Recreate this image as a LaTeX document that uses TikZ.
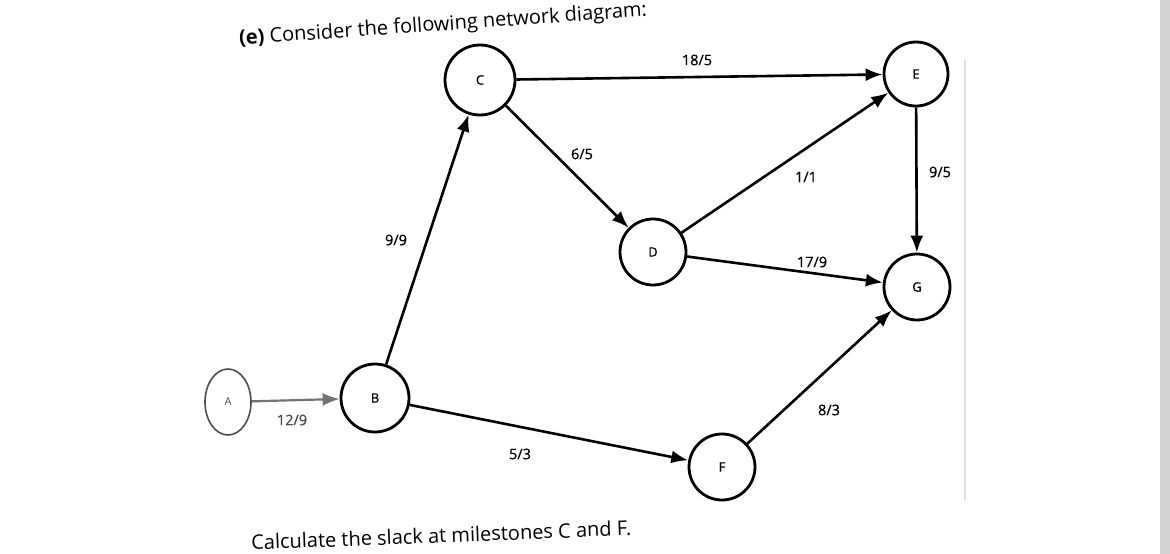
\documentclass[tikz,border=0pt]{standalone}
\usepackage{fontspec}
\setmainfont{Open Sans}
\newfontfamily\labfont[FakeBold=0.7]{Open Sans}
\usetikzlibrary{arrows.meta,shapes.geometric}
\begin{document}
\begin{tikzpicture}[x=1pt,y=-1pt,
  ms/.style={draw=black,line width=2.8pt,circle,minimum size=68pt,inner sep=0pt,font=\labfont\fontsize{13}{15}\selectfont},
  edge/.style={line width=2.6pt,-{Latex[length=17pt,width=13pt]}},
  lab/.style={font=\labfont\fontsize{14.5}{16}\selectfont},
  txt/.style={font=\fontsize{20}{22}\selectfont,anchor=base west}]
\useasboundingbox (0,0) rectangle (1170,554);
\fill[white] (0,0) rectangle (1170,554);
\draw[black!12,line width=1.5pt] (965,60) -- (965,500);
\fill[black!18] (1160,0) rectangle (1170,554);
\node[draw=black!70,line width=1.6pt,ellipse,minimum width=46pt,minimum height=66pt,inner sep=0pt,font=\fontsize{11}{13}\selectfont,text=black!70] (A) at (228,402) {A};
\node[ms] (B) at (375,398) {B};
\node[ms,minimum size=70pt] (C) at (480,80) {C};
\node[ms,minimum size=64pt] (E) at (916,74) {E};
\node[ms,minimum size=66pt] (D) at (653,252) {D};
\node[ms,minimum size=66pt] (G) at (917,287) {G};
\node[ms,minimum size=66pt] (F) at (722,467) {F};
\draw[edge,draw=black!55,fill=black!55,line width=2.2pt] (A) -- (B);
\draw[edge] (B) -- (C);
\draw[edge] (C) -- (E);
\draw[edge] (C) -- (D);
\draw[edge] (D) -- (E);
\draw[edge] (D) -- (G);
\draw[edge] (E) -- (G);
\draw[edge] (B) -- (F);
\draw[edge] (F) -- (G);
\node[lab,text=black!70] (l1) at (292,420) {12/9};
\node[lab] (l2) at (396,240) {9/9};
\node[lab] (l3) at (697,60) {18/5};
\node[lab] (l4) at (582,154) {6/5};
\node[lab] (l5) at (806,177) {1/1};
\node[lab] (l6) at (812,262) {17/9};
\node[lab] (l7) at (940,172) {9/5};
\node[lab] (l8) at (520,454) {5/3};
\node[lab] (l9) at (829,410) {8/3};
\node[txt,rotate=4] (t1) at (236,45) {\textbf{(e)} Consider the following network diagram:};
\node[txt,rotate=2.2] (t2) at (248,550) {Calculate the slack at milestones C and F.};
\end{tikzpicture}
\end{document}
